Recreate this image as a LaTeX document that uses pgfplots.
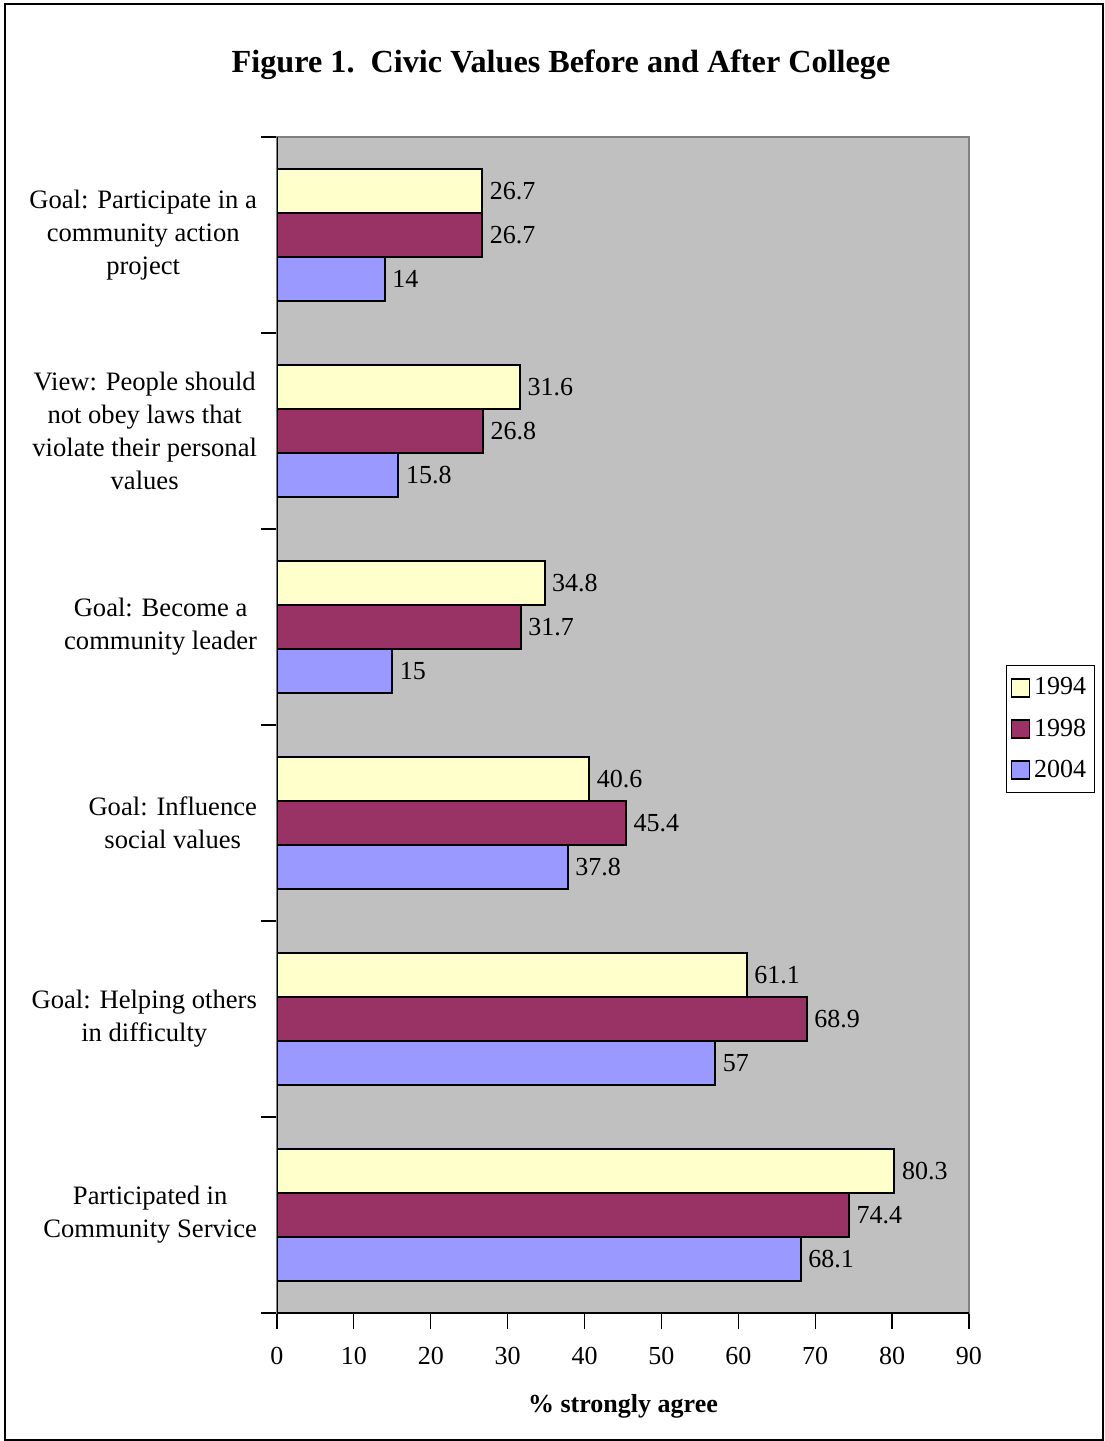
\documentclass[border=0pt]{standalone}
\usepackage{pgfplots}
\pgfplotsset{compat=1.18}
\usepackage{fontspec}
\setmainfont{Liberation Serif}
\definecolor{c94}{HTML}{FFFFCC}
\definecolor{c98}{HTML}{993366}
\definecolor{c04}{HTML}{9999FF}
\definecolor{bg}{HTML}{C0C0C0}
\definecolor{frame}{HTML}{808080}
\begin{document}
\begin{tikzpicture}
\useasboundingbox (-2.5pt,-0.5pt) rectangle (549.5pt,720pt);
\draw[line width=0.8pt] (0pt,0pt) rectangle (549pt,718pt);
\node[font=\fontsize{16.1}{19}\selectfont\bfseries] at (278pt,687.5pt) {Figure 1.\ \ Civic Values Before and After College};
\begin{axis}[
  at={(136pt,63.5pt)}, anchor=south west,
  scale only axis, width=346pt, height=588pt,
  xbar, bar width=22pt,
  xmin=0, xmax=90, xtick={0,10,...,90},
  ymin=-0.5, ymax=5.5,
  ytick={-0.5,0.5,1.5,2.5,3.5,4.5,5.5},
  yticklabels={},
  y tick style={black, line width=0.6pt},
  ytick pos=left, ytick align=outside,
  extra y ticks={0,1,2,3,4,5},
  extra y tick labels={{Participated in\\Community Service},{Goal: Helping others\\in difficulty},{Goal: Influence\\social values},{Goal: Become a\\community leader},{View: People should\\not obey laws that\\violate their personal\\values},{Goal: Participate in a\\community action\\project}},
  extra y tick style={major tick length=0pt, yticklabel style={align=center, font=\fontsize{13.3}{16.5}\selectfont, xshift=-6.5pt}},
  xticklabel style={font=\fontsize{13}{16}\selectfont, yshift=-5.5pt},
  /pgf/number format/assume math mode=true,
  x tick style={black, line width=0.6pt},
  xtick pos=bottom, xtick align=outside, major tick length=8pt,
  axis background/.style={fill=bg},
  axis line style={frame, line width=0.8pt},
  xlabel={\textbf{\% strongly agree}},
  xlabel style={font=\fontsize{13}{16}\selectfont, yshift=-8pt},
  point meta=x,
  nodes near coords,
  nodes near coords style={font=\fontsize{13}{16}\selectfont, anchor=west, black},
  legend style={at={(1.0535,0.551)}, anchor=north west, draw=black, line width=0.6pt, font=\fontsize{13}{16}\selectfont, row sep=6.5pt, inner xsep=2pt, inner ysep=4pt, cells={anchor=west}},
  legend image code/.code={\draw[#1, line width=0.8pt] (0pt,-4.5pt) rectangle (9pt,4.5pt);},
]
\addplot[fill=c94, draw=black, line width=1pt, bar shift=22pt] coordinates {(80.3,0) (61.1,1) (40.6,2) (34.8,3) (31.6,4) (26.7,5)};
\addplot[fill=c98, draw=black, line width=1pt, bar shift=0pt] coordinates {(74.4,0) (68.9,1) (45.4,2) (31.7,3) (26.8,4) (26.7,5)};
\addplot[fill=c04, draw=black, line width=1pt, bar shift=-22pt] coordinates {(68.1,0) (57,1) (37.8,2) (15,3) (15.8,4) (14,5)};
\legend{1994,1998,2004}
\draw[black, line width=0.8pt] (rel axis cs:0,0) -- (rel axis cs:0,1);
\draw[black, line width=0.8pt] (rel axis cs:0,0) -- (rel axis cs:1,0);
\end{axis}
\end{tikzpicture}
\end{document}
